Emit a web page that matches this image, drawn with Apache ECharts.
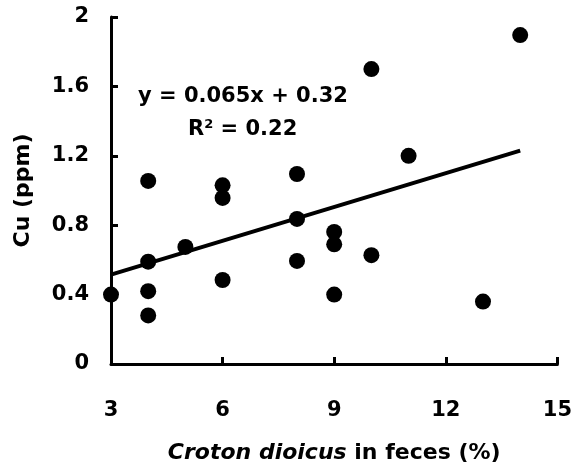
<!DOCTYPE html>
<html><head><meta charset="utf-8">
<script src="https://cdn.jsdelivr.net/npm/echarts@6/dist/echarts.min.js"></script>
<style>html,body{margin:0;padding:0;background:#fff}#c{width:575px;height:470px}</style>
</head><body><div id="c"></div>
<script>
var xValues = [3, 4, 4, 4, 4, 5, 6, 6, 6, 8, 8, 8, 9, 9, 9, 10, 10, 11, 13, 14];
var yValues = [0.40, 1.055, 0.59, 0.42, 0.28, 0.675, 1.03, 0.957, 0.484, 1.095, 0.836, 0.594, 0.761, 0.69, 0.40, 1.70, 0.627, 1.20, 0.36, 1.896];
var slope = 0.065, intercept = 0.32;
var trendX = [3, 14];
var xTicks = ['3', '6', '9', '12', '15'];
var yTicks = ['0', '0.4', '0.8', '1.2', '1.6', '2'];

var pts = xValues.map(function (x, i) { return [x, yValues[i]]; });
var trend = trendX.map(function (x) { return [x, slope * x + intercept]; });
var F = '"DejaVu Sans", sans-serif';
var FS = 21, TS = 22;
var chart = echarts.init(document.getElementById('c'));
chart.setOption({
  animation: false,
  grid: { left: 111, right: 17, top: 17, bottom: 106 },
  xAxis: {
    type: 'value', min: 3, max: 15, interval: 3,
    name: '{i|Croton dioicus} in feces (%)', nameLocation: 'middle', nameGap: 78,
    nameTextStyle: { fontFamily: F, fontWeight: 'bold', fontSize: TS, color: '#000',
      rich: { i: { fontStyle: 'italic', fontWeight: 'bold', fontSize: TS, fontFamily: F, color: '#000' } } },
    axisLine: { onZero: false, lineStyle: { color: '#000', width: 3 } },
    axisTick: { inside: true, length: 7, lineStyle: { color: '#000', width: 3 } },
    axisLabel: { fontFamily: F, fontWeight: 'bold', fontSize: FS, color: '#000', margin: 36,
      formatter: function (v) { return xTicks[Math.round((v - 3) / 3)]; } },
    splitLine: { show: false }
  },
  yAxis: {
    type: 'value', min: 0, max: 2, interval: 0.4,
    name: 'Cu (ppm)', nameLocation: 'middle', nameGap: 77,
    nameTextStyle: { fontFamily: F, fontWeight: 'bold', fontSize: TS, color: '#000' },
    axisLine: { onZero: false, lineStyle: { color: '#000', width: 3 } },
    axisTick: { inside: true, length: 7, lineStyle: { color: '#000', width: 3 } },
    axisLabel: { fontFamily: F, fontWeight: 'bold', fontSize: FS, color: '#000', margin: 22,
      formatter: function (v) { return yTicks[Math.round(v / 0.4)]; } },
    splitLine: { show: false }
  },
  series: [
    { type: 'line', data: trend, symbol: 'none', lineStyle: { color: '#000', width: 4 }, z: 2 },
    { type: 'scatter', data: pts, symbol: 'circle', symbolSize: 16, itemStyle: { color: '#000', opacity: 1 }, z: 3 }
  ],
  graphic: [
    { type: 'text', left: 138, top: 86, style: { text: 'y = 0.065x + 0.32', fontFamily: F, fontWeight: 'bold', fontSize: 21, fill: '#000' } },
    { type: 'text', left: 188, top: 118, style: { text: 'R{s|2} = 0.22', fontFamily: F, fontWeight: 'bold', fontSize: 21, fill: '#000',
      rich: { s: { fontSize: 13, fontWeight: 'bold', fontFamily: F, verticalAlign: 'top', padding: [0, 0, 10, 0] } } } }
  ]
});
</script></body></html>
